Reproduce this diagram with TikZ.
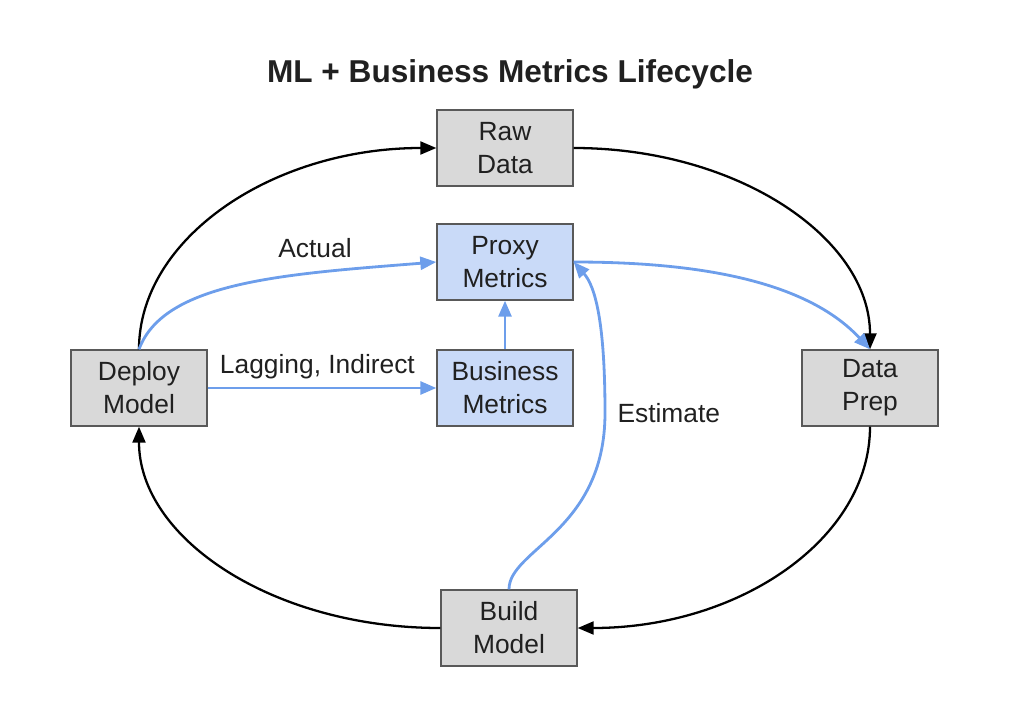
\documentclass[tikz,border=0pt]{standalone}
\usepackage{fontspec}
\setmainfont{Liberation Sans}
\usetikzlibrary{arrows.meta}
\definecolor{boxgray}{HTML}{D9D9D9}
\definecolor{boxline}{HTML}{595959}
\definecolor{boxblue}{HTML}{C9DAF8}
\definecolor{lineblue}{HTML}{6D9EEB}
\definecolor{ink}{HTML}{202020}
\begin{document}
\begin{tikzpicture}[x=0.02cm,y=0.02cm,>={Triangle[length=0.32cm,width=0.26cm]},
	stage/.style={draw=boxline,line width=0.8pt,fill=boxgray,minimum width=2.72cm,minimum height=1.52cm,inner sep=0pt,align=center,text=ink,font=\fontsize{15}{18.7}\selectfont},
	metric/.style={stage,fill=boxblue},
	lbl/.style={text=ink,font=\fontsize{15}{18}\selectfont},
	cyc/.style={->,line width=1.3pt,black},
	est/.style={->,line width=1.6pt,lineblue}]
	\useasboundingbox (0,0) rectangle (1024,701);
	\node[anchor=base,text=ink,font=\bfseries\fontsize{18}{22}\selectfont] (title) at (510,618) {ML + Business Metrics Lifecycle};
	\node[stage] (raw) at (505,553) {Raw\\Data};
	\node[metric] (proxy) at (505,439) {Proxy\\Metrics};
	\node[metric] (biz) at (505,313) {Business\\Metrics};
	\node[stage] (deploy) at (139,313) {Deploy\\Model};
	\node[stage] (prep) at (870,313) {Data\\Prep};
	\node[stage] (build) at (509,73) {Build\\Model};
	\draw[cyc] (deploy.north) .. controls +(0,111) and +(-164,0) .. (raw.west);
	\draw[cyc] (raw.east) .. controls +(164,0) and +(0,111) .. (prep.north);
	\draw[cyc] (prep.south) .. controls +(0,-112) and +(162,0) .. (build.east);
	\draw[cyc] (build.west) .. controls +(-167,0) and +(0,-112) .. (deploy.south);
	\draw[est] (deploy.north) .. controls +(25,68) and +(-150,-12) .. (proxy.west);
	\node[lbl] (actual) at (315,453) {Actual};
	\draw[est] (deploy.east) -- node[pos=0.48,above=1pt,lbl] (lagging) {Lagging, Indirect} (biz.west);
	\draw[est] (biz.north) -- (proxy.south);
	\draw[est] (proxy.east) .. controls +(120,0) and +(-65,70) .. (prep.north);
	\draw[est] (build.north) .. controls +(0,40) and (605,170) .. (605,288) node[right=3pt,lbl] (estimate) {Estimate} .. controls (605,380) and (595,415) .. (proxy.east);
\end{tikzpicture}
\end{document}
